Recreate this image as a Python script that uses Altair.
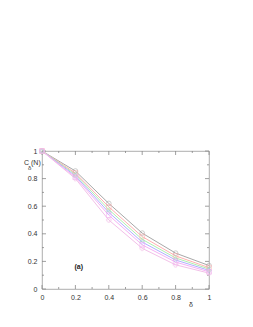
import altair as alt
import pandas as pd

deltas = [0, 0.2, 0.4, 0.6, 0.8, 1.0]
s1 = [1, 0.855, 0.62, 0.405, 0.26, 0.17]
s2 = [1, 0.84, 0.595, 0.38, 0.24, 0.155]
s3 = [1, 0.83, 0.575, 0.36, 0.225, 0.145]
s4 = [1, 0.82, 0.555, 0.34, 0.21, 0.135]
s5 = [1, 0.81, 0.535, 0.32, 0.195, 0.125]
s6 = [1, 0.80, 0.50, 0.295, 0.175, 0.115]
series_names = ["s1", "s2", "s3", "s4", "s5", "s6"]
line_colors = ["#a8a8a8", "#ffb0b0", "#b0eeb0", "#b0b0ff", "#f5b0f5", "#f2c0e8"]
marker_colors = ["#888888", "#ff8a8a", "#78d078", "#6a6aee", "#dd70dd", "#bb60ee"]
marker_shapes = ["circle", "square", "triangle-up", "diamond", "square", "cross"]
major_ticks = [0, 0.2, 0.4, 0.6, 0.8, 1.0]
minor_ticks = [0.1, 0.3, 0.5, 0.7, 0.9]

rows = []
for name, vals in zip(series_names, [s1, s2, s3, s4, s5, s6]):
    for d, v in zip(deltas, vals):
        rows.append({"delta": d, "C": v, "series": name})
df = pd.DataFrame(rows)

W, H = 167, 138
xs = alt.Scale(domain=[0, 1], nice=False)
ys = alt.Scale(domain=[0, 1], nice=False)
xaxis = alt.Axis(values=major_ticks, format="~g", ticks=False, domain=False, grid=False,
                 labelFontSize=7, labelColor="#333", labelPadding=4, labelOverlap=False,
                 labelFlush=False, title=None)
yaxis = alt.Axis(values=major_ticks, format="~g", ticks=False, domain=False, grid=False,
                 labelFontSize=7, labelColor="#333", labelPadding=5, labelOverlap=False,
                 labelFlush=False, title=None)
color = alt.Color("series:N", scale=alt.Scale(domain=series_names, range=line_colors), legend=None)

base = alt.Chart(df)
lines = base.mark_line(strokeWidth=1).encode(
    x=alt.X("delta:Q", scale=xs, axis=xaxis),
    y=alt.Y("C:Q", scale=ys, axis=yaxis),
    color=color,
    order="delta:Q",
)
points = base.mark_point(size=22, strokeWidth=0.8, filled=False).encode(
    x=alt.X("delta:Q", scale=xs, axis=xaxis),
    y=alt.Y("C:Q", scale=ys, axis=yaxis),
    color=alt.Color("series:N", scale=alt.Scale(domain=series_names, range=marker_colors), legend=None),
    shape=alt.Shape("series:N", scale=alt.Scale(domain=series_names, range=marker_shapes), legend=None),
)

maj = pd.DataFrame({"t": major_ticks})
mnr = pd.DataFrame({"t": minor_ticks})
tick_color = "#888888"

def yticks(data, length):
    c = alt.Chart(data)
    l = c.mark_rule(color=tick_color, strokeWidth=0.8).encode(
        y=alt.Y("t:Q", scale=ys, axis=yaxis), x=alt.value(0), x2=alt.value(length))
    r = c.mark_rule(color=tick_color, strokeWidth=0.8).encode(
        y=alt.Y("t:Q", scale=ys, axis=yaxis), x=alt.value(W - length), x2=alt.value(W))
    return l + r

def xticks(data, length):
    c = alt.Chart(data)
    b = c.mark_rule(color=tick_color, strokeWidth=0.8).encode(
        x=alt.X("t:Q", scale=xs, axis=xaxis), y=alt.value(H), y2=alt.value(H - length))
    t = c.mark_rule(color=tick_color, strokeWidth=0.8).encode(
        x=alt.X("t:Q", scale=xs, axis=xaxis), y=alt.value(0), y2=alt.value(length))
    return b + t

texts = pd.DataFrame({"label": ["(a)"], "x": [0.22], "y": [0.16]})
lab = alt.Chart(texts).mark_text(fontSize=7, font="Liberation Sans", fontWeight="bold", color="#222").encode(
    x=alt.X("x:Q", scale=xs, axis=xaxis), y=alt.Y("y:Q", scale=ys, axis=yaxis), text="label:N")

ytitle = alt.Chart(pd.DataFrame({"a": [0]})).mark_text(fontSize=7, font="Liberation Sans", color="#333", align="left").encode(
    x=alt.value(-18), y=alt.value(12), text=alt.value("C (N)"))
ysub = alt.Chart(pd.DataFrame({"a": [0]})).mark_text(fontSize=6, font="Liberation Sans", color="#333", align="left").encode(
    x=alt.value(-14), y=alt.value(17), text=alt.value("δ"))
xtitle = alt.Chart(pd.DataFrame({"a": [0]})).mark_text(fontSize=7, font="Liberation Sans", color="#333").encode(
    x=alt.value(149), y=alt.value(H + 16), text=alt.value("δ"))

chart = alt.layer(
    lines, yticks(maj, 4), yticks(mnr, 2), xticks(maj, 4), xticks(mnr, 2),
    points, lab, ytitle, ysub, xtitle,
).properties(
    width=W, height=H,
    autosize=alt.AutoSizeParams(type="none"),
    padding={"left": 34, "top": 143, "right": 30, "bottom": 30},
).configure_view(stroke="#999999", strokeWidth=0.8).configure_axis(
    labelFont="Liberation Sans", labelOverlap=False)

chart.save("out.html", embed_options={"renderer": "svg", "actions": False})
